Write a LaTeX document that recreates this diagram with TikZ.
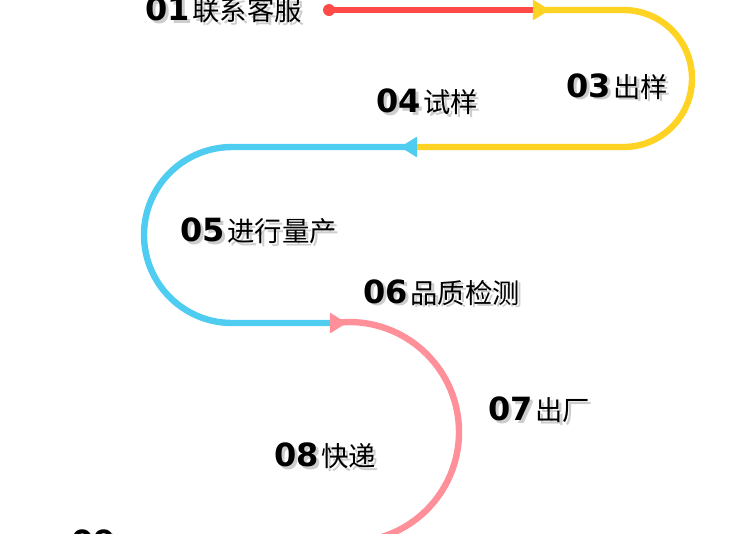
\documentclass[tikz,border=0pt]{standalone}
\usepackage{fontspec}
\usetikzlibrary{arrows.meta}
\newfontfamily\cjk{Noto Sans CJK SC}
\newfontfamily\numfont{DejaVu Sans}
\definecolor{stepred}{RGB}{255,74,71}
\definecolor{stepyellow}{RGB}{255,211,36}
\definecolor{stepblue}{RGB}{78,205,240}
\definecolor{steppink}{RGB}{255,143,153}
\definecolor{shadowgray}{RGB}{205,205,205}
\newcommand{\numstyle}{\numfont\bfseries\fontsize{24}{24}\selectfont}
\newcommand{\txtstyle}{\cjk\mdseries\fontsize{20.5}{20.5}\selectfont}
\newcommand{\steplabel}[2]{\makebox[0pt][l]{\hspace{2.2pt}\raisebox{-2.2pt}{\color{shadowgray}{\numstyle #1}\kern2pt{\txtstyle #2}}}{\numstyle #1}\kern2pt{\txtstyle #2}}
\tikzset{
  flow/.style={line width=4.8pt},
  label/.style={anchor=base west, inner sep=0pt},
  tip/.style={-{Triangle[length=12.5pt, width=15.5pt, line width=1pt, round, color=#1]}}
}
\begin{document}
\begin{tikzpicture}[x=0.75pt,y=-0.75pt]
  \useasboundingbox (0,0) rectangle (750,533);
  \clip (0,0) rectangle (750,533);

  % Turning points of the path
  \coordinate (j1) at (549,10);
  \coordinate (y0) at (535,10);
  \coordinate (ytop) at (623.5,10);
  \coordinate (j2) at (401,147);
  \coordinate (b0) at (415,147);
  \coordinate (btop) at (232,147);
  \coordinate (j3) at (346,323);
  \coordinate (p0) at (330,323);
  \coordinate (ptop) at (349,322);

  % Pink part
  \draw[flow, steppink] (p0) -- (ptop) arc[start angle=-90, end angle=92, radius=110];
  % Blue part
  \draw[flow, stepblue, tip=steppink]
    (b0) -- (btop) arc[start angle=-90, end angle=-270, radius=88] -- (j3);
  % Yellow part
  \draw[flow, stepyellow, tip=stepblue]
    (y0) -- (ytop) arc[start angle=-90, end angle=90, radius=68.5] -- (j2);
  % Red part
  \node[circle, fill=stepred, minimum size=9pt, inner sep=0pt] (start) at (329,10) {};
  \draw[flow, stepred, tip=stepyellow] (start.center) -- (j1);

  % Labels
  \node[label] (s01) at (145,20.5) {\steplabel{01}{联系客服}};
  \node[label] (s03) at (566,97) {\steplabel{03}{出样}};
  \node[label] (s04) at (376,112.7) {\steplabel{04}{试样}};
  \node[label] (s05) at (180,241.7) {\steplabel{05}{进行量产}};
  \node[label] (s06) at (363,303) {\steplabel{06}{品质检测}};
  \node[label] (s07) at (488,420.7) {\steplabel{07}{出厂}};
  \node[label] (s08) at (274,466.7) {\steplabel{08}{快递}};
  \node[label] (s09) at (71,553) {\steplabel{09}{}};
\end{tikzpicture}
\end{document}
